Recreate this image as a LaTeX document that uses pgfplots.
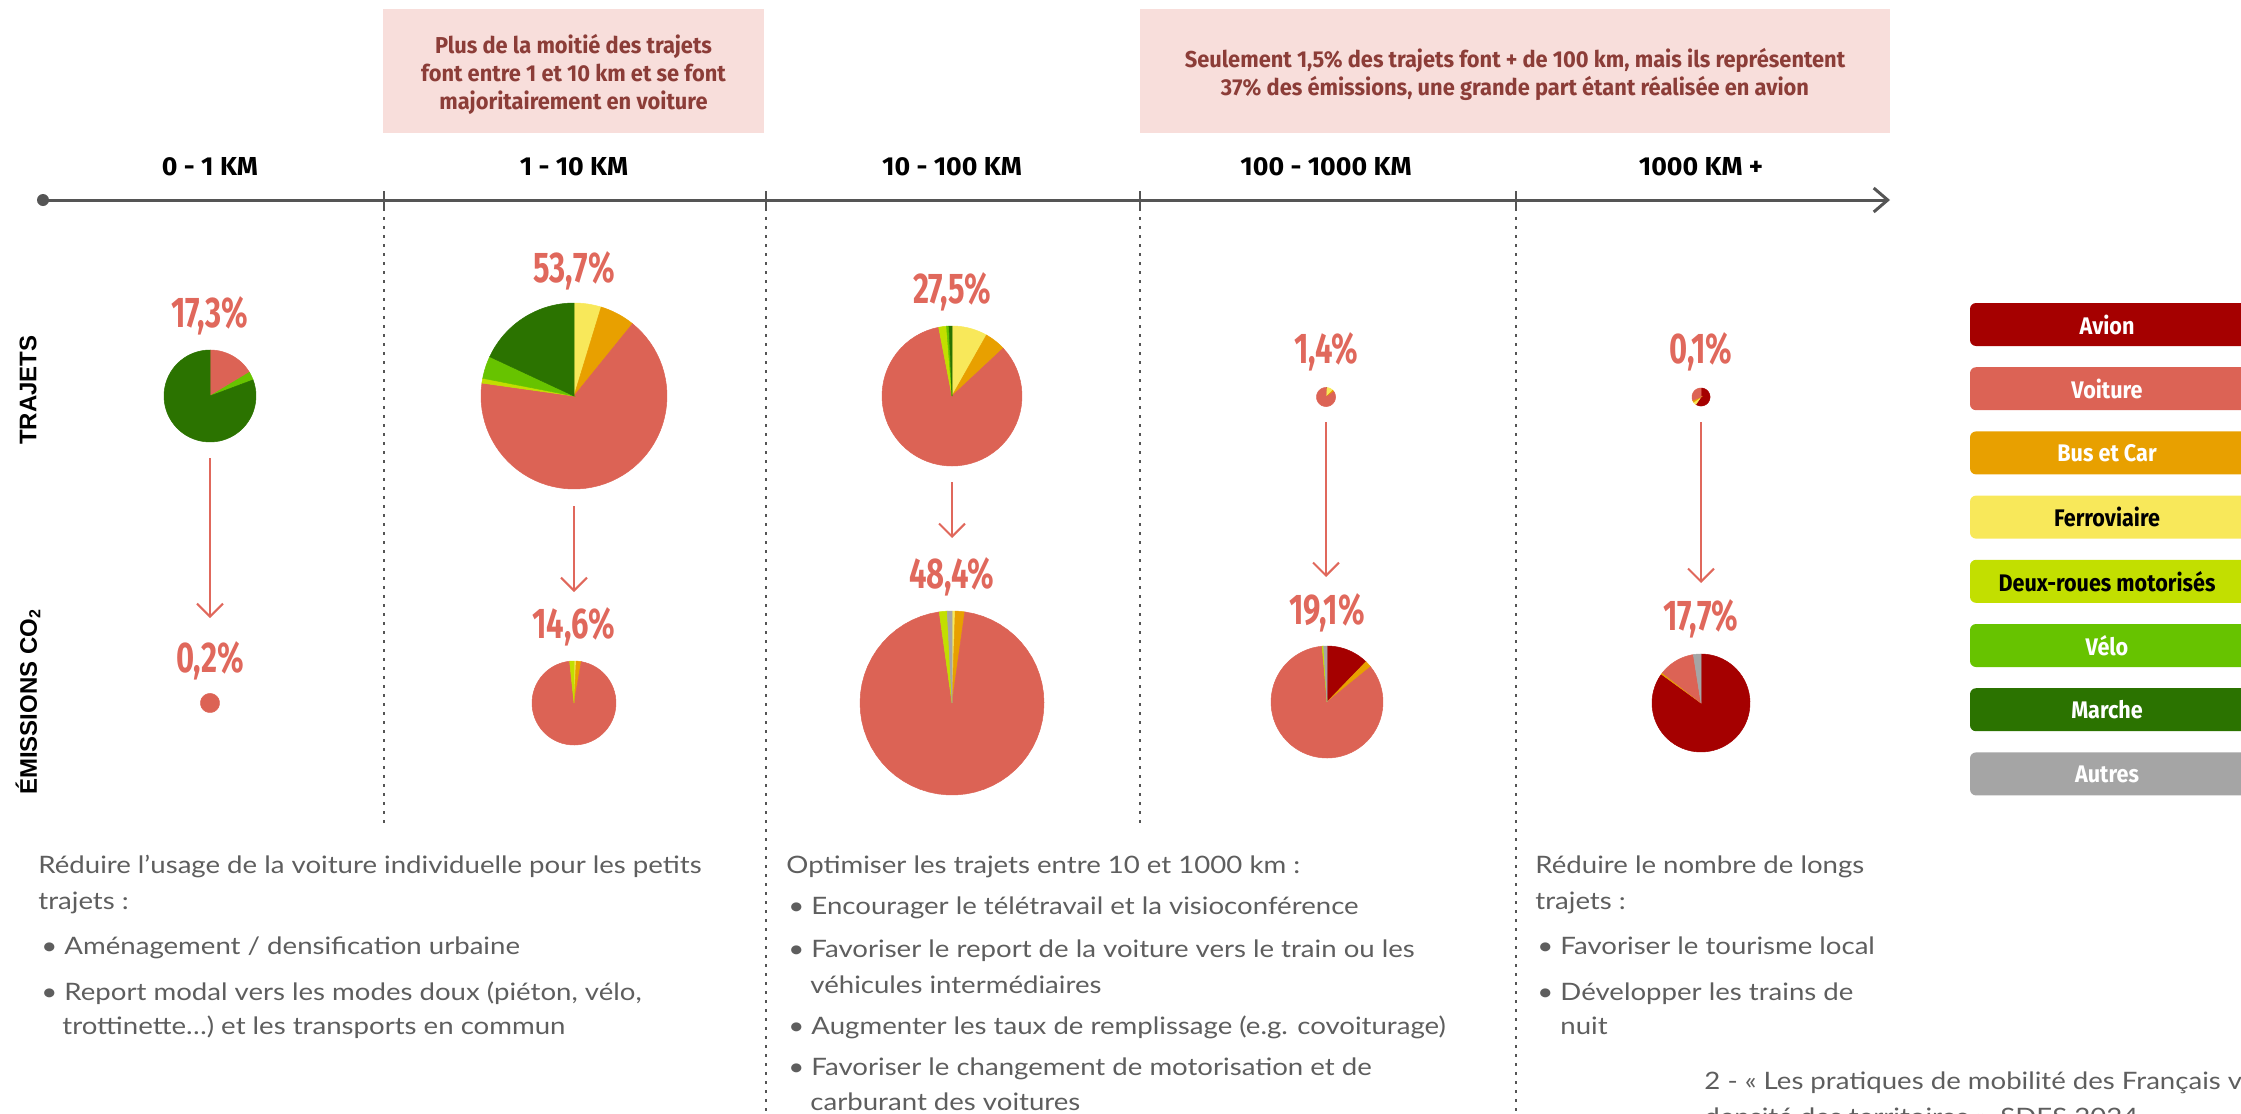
\documentclass[border=0pt]{standalone}
\usepackage{pgfplots}
\pgfplotsset{compat=1.18}
\usepackage{fontspec}
\usetikzlibrary{arrows.meta}
\setmainfont[FakeStretch=1.15]{Lato}
\newfontfamily\pctfont[FakeStretch=0.72]{Fira Sans}
\newfontfamily\condfont[FakeStretch=0.95]{Fira Sans}
\newfontfamily\legfont[FakeStretch=0.9]{Fira Sans}
\newfontfamily\headfont[FakeStretch=1.03]{Fira Sans}
\newfontfamily\widefont{Liberation Sans}

\definecolor{avion}{HTML}{A50000}
\definecolor{voiture}{HTML}{DC6355}
\definecolor{bus}{HTML}{E8A000}
\definecolor{ferro}{HTML}{F8E85A}
\definecolor{deuxroues}{HTML}{C2DF00}
\definecolor{velo}{HTML}{67C300}
\definecolor{marche}{HTML}{2B7300}
\definecolor{autres}{HTML}{A5A5A5}
\definecolor{pinkbg}{HTML}{F8DEDB}
\definecolor{pinktxt}{HTML}{8C3D38}
\definecolor{pctcol}{HTML}{E0685C}
\definecolor{axisgray}{HTML}{555555}
\definecolor{txtgray}{HTML}{5E5E5E}

% one pie slice: centre x, centre y, radius, start angle, end angle (clockwise from 12 o'clock), colour
\newcommand{\pieslice}[6]{%
  \addplot[draw=#6, line width=0.25pt, fill=#6, domain=#4:#5, samples=60, variable=\t]
    ({#1+#3*sin(\t)}, {#2-#3*cos(\t)}) -- (axis cs:#1,#2) -- cycle;}
\newcommand{\pct}[3]{\node[anchor=base, text=pctcol, font=\pctfont\bfseries\fontsize{21.5}{24}\selectfont] at (axis cs:#1,#2) {#3};}
\newcommand{\body}[3]{\node[anchor=base west, text=txtgray, inner sep=0pt, font=\fontsize{12}{14}\selectfont] at (axis cs:#1,#2) {#3};}
\newcommand{\pinkline}[3]{\node[anchor=base, text=pinktxt, inner sep=0pt, font=\condfont\bfseries\fontsize{11.5}{13}\selectfont] at (axis cs:#1,#2) {#3};}
\newcommand{\head}[2]{\node[anchor=base, font=\headfont\bfseries\fontsize{13}{15}\selectfont] at (axis cs:#1,175) {#2};}
\newcommand{\legbox}[4]{%
  \fill[#2, rounded corners=3pt] (axis cs:1970,#1-21.5) rectangle (axis cs:2256,#1+21.5);
  \node[text=#3, font=\legfont\bfseries\fontsize{12}{14}\selectfont] at (axis cs:2107,#1) {#4};}

\begin{document}
\begin{tikzpicture}
\begin{axis}[scale only axis, width=1120.5pt, height=556.5pt,
  xmin=0, xmax=2241, ymin=0, ymax=1113, y dir=reverse, hide axis, clip=false]

% encadres
\fill[pinkbg] (axis cs:383,9) rectangle (axis cs:764,133);
\fill[pinkbg] (axis cs:1140,9) rectangle (axis cs:1890,133);
\pinkline{573.5}{54}{Plus de la moitié des trajets}
\pinkline{573.5}{81}{font entre 1 et 10 km et se font}
\pinkline{573.5}{109}{majoritairement en voiture}
\pinkline{1515}{67}{Seulement 1,5\% des trajets font + de 100 km, mais ils représentent}
\pinkline{1515}{95}{37\% des émissions, une grande part étant réalisée en avion}

% tranches de distance
\head{210}{0 - 1 KM}
\head{574}{1 - 10 KM}
\head{952}{10 - 100 KM}
\head{1326}{100 - 1000 KM}
\head{1701}{1000 KM +}

% axe
\draw[axisgray, line width=1.5pt, -{Straight Barb[length=7pt,width=12pt]}] (axis cs:43,200) -- (axis cs:1890,200);
\fill[axisgray] (axis cs:43,200) circle[radius=3pt];
\draw[axisgray, line width=0.6pt] (axis cs:384,191) -- (axis cs:384,208);
\draw[axisgray, line width=0.6pt] (axis cs:766,191) -- (axis cs:766,208);
\draw[axisgray, line width=0.6pt] (axis cs:1140,191) -- (axis cs:1140,208);
\draw[axisgray, line width=0.6pt] (axis cs:1516,191) -- (axis cs:1516,208);
\draw[axisgray, line width=0.6pt, dash pattern=on 1.5pt off 3pt] (axis cs:384,208) -- (axis cs:384,827);
\draw[axisgray, line width=0.6pt, dash pattern=on 1.5pt off 3pt] (axis cs:766,208) -- (axis cs:766,1113);
\draw[axisgray, line width=0.6pt, dash pattern=on 1.5pt off 3pt] (axis cs:1140,208) -- (axis cs:1140,827);
\draw[axisgray, line width=0.6pt, dash pattern=on 1.5pt off 3pt] (axis cs:1516,208) -- (axis cs:1516,1113);

% libelles de lignes
\node[rotate=90, font=\widefont\bfseries\fontsize{12}{14}\selectfont] at (axis cs:28,390) {TRAJETS};
\node[rotate=90, font=\widefont\bfseries\fontsize{12}{14}\selectfont] at (axis cs:28,702) {ÉMISSIONS CO\textsubscript{2}};

% parts des trajets
\pct{210}{327}{17,3\%}
\pct{574}{282}{53,7\%}
\pct{952}{303}{27,5\%}
\pct{1326}{363}{1,4\%}
\pct{1701}{363}{0,1\%}

% trajets 0-1 km
\pieslice{210}{396}{46}{0}{59}{voiture}
\pieslice{210}{396}{46}{59}{69.5}{velo}
\pieslice{210}{396}{46}{69.5}{360}{marche}
% trajets 1-10 km
\pieslice{574}{396}{93}{0}{17}{ferro}
\pieslice{574}{396}{93}{17}{39}{bus}
\pieslice{574}{396}{93}{39}{278}{voiture}
\pieslice{574}{396}{93}{278}{281}{deuxroues}
\pieslice{574}{396}{93}{281}{295}{velo}
\pieslice{574}{396}{93}{295}{360}{marche}
% trajets 10-100 km
\pieslice{952}{396}{70}{0}{29.5}{ferro}
\pieslice{952}{396}{70}{29.5}{47}{bus}
\pieslice{952}{396}{70}{47}{349}{voiture}
\pieslice{952}{396}{70}{349}{355.5}{deuxroues}
\pieslice{952}{396}{70}{355.5}{357.5}{velo}
\pieslice{952}{396}{70}{357.5}{360}{marche}
% trajets 100-1000 km
\pieslice{1326}{397}{9.5}{0}{5}{avion}
\pieslice{1326}{397}{9.5}{5}{45}{ferro}
\pieslice{1326}{397}{9.5}{45}{55}{bus}
\pieslice{1326}{397}{9.5}{55}{360}{voiture}
% trajets 1000 km +
\pieslice{1701}{397}{9}{0}{215}{avion}
\pieslice{1701}{397}{9}{215}{235}{ferro}
\pieslice{1701}{397}{9}{235}{248}{bus}
\pieslice{1701}{397}{9}{248}{360}{voiture}

% fleches
\draw[pctcol, line width=1pt, -{Straight Barb[length=6.5pt,width=13pt]}] (axis cs:210,458) -- (axis cs:210,618);
\draw[pctcol, line width=1pt, -{Straight Barb[length=6.5pt,width=13pt]}] (axis cs:574,506) -- (axis cs:574,592);
\draw[pctcol, line width=1pt, -{Straight Barb[length=6.5pt,width=13pt]}] (axis cs:952,482) -- (axis cs:952,538);
\draw[pctcol, line width=1pt, -{Straight Barb[length=6.5pt,width=13pt]}] (axis cs:1326,422) -- (axis cs:1326,577);
\draw[pctcol, line width=1pt, -{Straight Barb[length=6.5pt,width=13pt]}] (axis cs:1701,422) -- (axis cs:1701,583);

% parts des emissions
\pct{210}{672}{0,2\%}
\pct{574}{638}{14,6\%}
\pct{952}{588}{48,4\%}
\pct{1327}{624}{19,1\%}
\pct{1701}{630}{17,7\%}

% emissions 0-1 km
\pieslice{210}{703}{9.5}{0}{360}{voiture}
% emissions 1-10 km
\pieslice{574}{703}{42}{0}{3}{ferro}
\pieslice{574}{703}{42}{3}{10}{bus}
\pieslice{574}{703}{42}{10}{354}{voiture}
\pieslice{574}{703}{42}{354}{360}{deuxroues}
% emissions 10-100 km
\pieslice{952}{703}{92}{0}{2}{ferro}
\pieslice{952}{703}{92}{2}{8}{bus}
\pieslice{952}{703}{92}{8}{352}{voiture}
\pieslice{952}{703}{92}{352}{357}{deuxroues}
\pieslice{952}{703}{92}{357}{360}{autres}
% emissions 100-1000 km
\pieslice{1327}{702}{56}{0}{44}{avion}
\pieslice{1327}{702}{56}{44}{51}{bus}
\pieslice{1327}{702}{56}{51}{355}{voiture}
\pieslice{1327}{702}{56}{355}{356.5}{deuxroues}
\pieslice{1327}{702}{56}{356.5}{360}{autres}
% emissions 1000 km +
\pieslice{1701}{703}{49}{0}{306}{avion}
\pieslice{1701}{703}{49}{306}{308}{bus}
\pieslice{1701}{703}{49}{308}{351}{voiture}
\pieslice{1701}{703}{49}{351}{360}{autres}

% legende
\legbox{324.5}{avion}{white}{Avion}
\legbox{388.7}{voiture}{white}{Voiture}
\legbox{452.9}{bus}{white}{Bus et Car}
\legbox{517.1}{ferro}{black}{Ferroviaire}
\legbox{581.3}{deuxroues}{black}{Deux-roues motorisés}
\legbox{645.5}{velo}{white}{Vélo}
\legbox{709.7}{marche}{white}{Marche}
\legbox{773.9}{autres}{white}{Autres}

% textes
\body{38}{873}{Réduire l’usage de la voiture individuelle pour les petits}
\body{38}{909}{trajets :}
\body{41}{954}{• Aménagement / densification urbaine}
\body{41}{1000}{• Report modal vers les modes doux (piéton, vélo,}
\body{62}{1034}{trottinette…) et les transports en commun}

\body{786}{873}{Optimiser les trajets entre 10 et 1000 km :}
\body{788}{914}{• Encourager le télétravail et la visioconférence}
\body{788}{957}{• Favoriser le report de la voiture vers le train ou les}
\body{810}{993}{véhicules intermédiaires}
\body{788}{1034}{• Augmenter les taux de remplissage (e.g. covoiturage)}
\body{788}{1075}{• Favoriser le changement de motorisation et de}
\body{810}{1110}{carburant des voitures}

\body{1535}{873}{Réduire le nombre de longs}
\body{1535}{909}{trajets :}
\body{1537}{954}{• Favoriser le tourisme local}
\body{1537}{1000}{• Développer les trains de}
\body{1560}{1034}{nuit}

\body{1704}{1089}{2 - « Les pratiques de mobilité des Français varient selon la}
\body{1704}{1125}{densité des territoires », SDES 2024}
\end{axis}
\pgfresetboundingbox
\path[use as bounding box] (current axis.south west) rectangle (current axis.north east);
\end{tikzpicture}
\end{document}
